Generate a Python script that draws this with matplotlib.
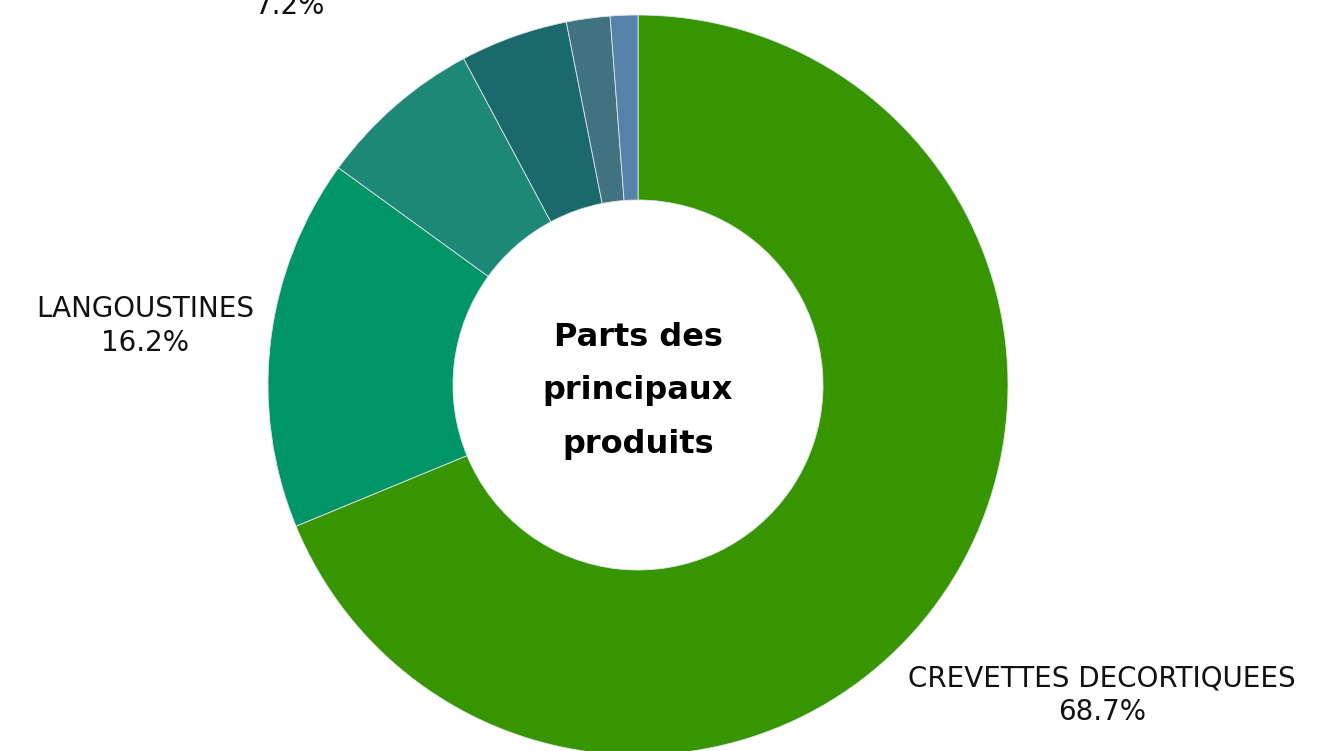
import matplotlib.pyplot as plt

# parts des principaux produits (%)
products = ["CREVETTES DECORTIQUEES", "LANGOUSTINES", "", "", "", ""]
shares = [68.7, 16.2, 7.2, 4.7, 1.9, 1.2]
colors = ["#379600", "#009566", "#1e8876", "#1a696b", "#40737f", "#5681a8"]

W, H = 1318, 751
fig = plt.figure(figsize=(W / 100, H / 100), dpi=100)
ax = fig.add_axes([0, 0, 1, 1])

cx, cy, r = 638, H - 385, 370
ax.pie(shares, colors=colors, startangle=90, counterclock=False,
       center=(cx, cy), radius=r, frame=True,
       wedgeprops=dict(width=r * 0.5, edgecolor="#dfe6ee", linewidth=0.6))
ax.set_xlim(0, W)
ax.set_ylim(0, H)
ax.set_aspect("equal")
ax.axis("off")

lab = dict(fontsize=20, ha="center", va="center", color="#111111",
           family="DejaVu Sans", linespacing=1.25)
ax.text(145, H - 326, f"{products[1]}\n{shares[1]}%", **lab)
ax.text(1102, H - 695, f"{products[0]}\n{shares[0]}%", **lab)
# label of the third slice sits partly above the top edge, as in the original
ax.text(290, H - 14, f"{shares[2]}%", fontsize=20, ha="center",
        va="baseline", color="#111111", family="DejaVu Sans")

ax.text(cx, H - 391, "Parts des\nprincipaux\nproduits", fontsize=23,
        fontweight="bold", ha="center", va="center", color="black",
        family="DejaVu Sans", linespacing=1.95)

fig.savefig("out.png", dpi=100)
